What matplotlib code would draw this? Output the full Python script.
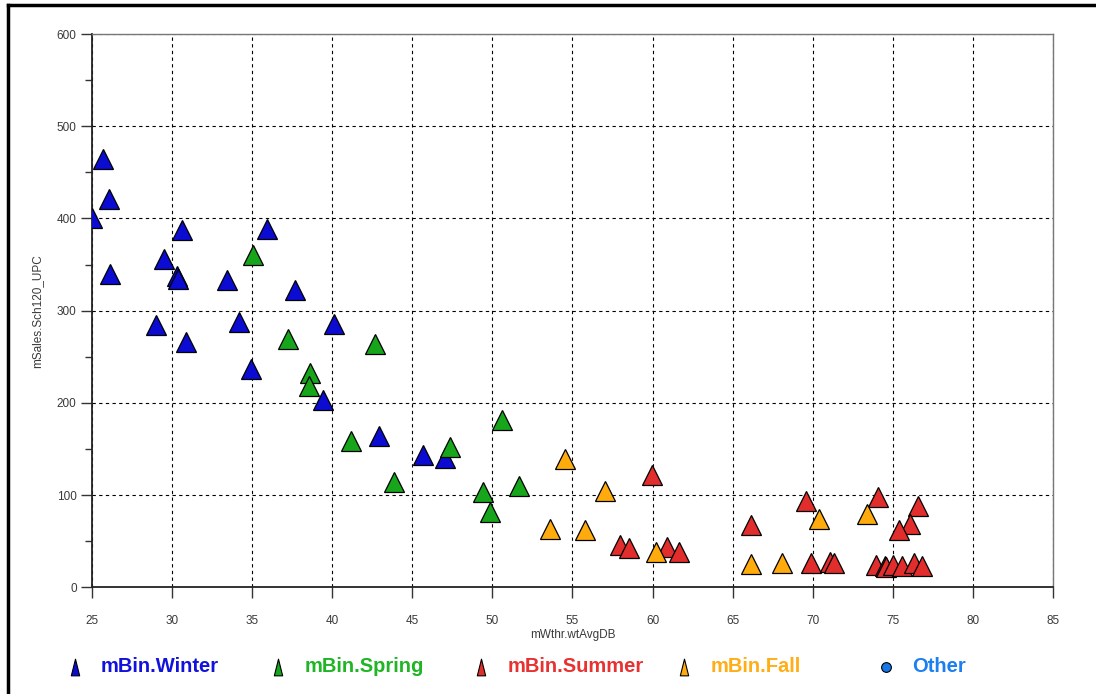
import matplotlib
matplotlib.use("Agg")
import matplotlib.pyplot as plt
from matplotlib.lines import Line2D
from matplotlib.path import Path

plt.rcParams['font.family'] = ['Liberation Sans', 'DejaVu Sans']

# datos
winter_x = [25.0, 25.67, 26.08, 26.13, 29.0, 29.52, 30.6, 30.29, 30.35, 30.86,
            33.4, 34.2, 34.94, 35.92, 37.65, 39.42, 40.08, 42.9, 45.64, 47.06]
winter_y = [401, 465, 421, 340, 285, 356, 387, 338, 334, 266,
            333, 288, 237, 389, 322, 203, 286, 164, 144, 140]

spring_x = [35.08, 37.27, 42.7, 38.6, 38.56, 41.17, 50.58, 47.33, 43.88, 49.44,
            49.82, 51.65]
spring_y = [360, 269, 264, 232, 218, 159, 182, 152, 114, 104, 82, 110]

summer_x = [59.98, 57.96, 58.52, 60.92, 61.65, 66.13, 69.6, 69.9, 71.1, 71.35,
            74.1, 76.54, 76.06, 75.4, 73.94, 74.5, 74.6, 74.98, 75.6, 76.3, 76.8]
summer_y = [122, 46, 43, 44, 38, 68, 94, 27, 28, 26,
            98, 88, 69, 62, 24, 23, 22, 24, 23, 26, 23]

fall_x = [54.52, 57.0, 53.62, 55.79, 60.23, 66.13, 68.1, 70.4, 73.4]
fall_y = [139, 105, 63, 62, 38, 25, 27, 74, 80]

series = [
    ('mBin.Winter', winter_x, winter_y, '#0b0bd2', '#1212dd'),
    ('mBin.Spring', spring_x, spring_y, '#17a51c', '#1fb524'),
    ('mBin.Summer', summer_x, summer_y, '#e22d2d', '#e83232'),
    ('mBin.Fall', fall_x, fall_y, '#ffab0e', '#ffae16'),
]

fig = plt.figure(figsize=(10.96, 6.94), dpi=100)
ax = fig.add_axes([0.0839, 0.1535, 0.8769, 0.7975])

for nombre, xs, ys, color, _ in series:
    ax.plot(xs, ys, linestyle='none', marker='^', markersize=14.5,
            markerfacecolor=color, markeredgecolor='black', markeredgewidth=0.9,
            zorder=3)

ax.set_xlim(25, 85)
ax.set_ylim(0, 600)
ax.set_xticks(range(25, 86, 5))
ax.set_yticks(range(0, 601, 100))
ax.set_yticks(range(50, 600, 100), minor=True)
ax.grid(True, which='major', linestyle=(0, (3, 3)), color='black', linewidth=0.8)
ax.set_axisbelow(True)

ax.tick_params(axis='both', which='major', direction='out', length=8, width=1,
               color='#333333', labelsize=8.5, labelcolor='#3a3a3a')
ax.tick_params(axis='x', pad=12)
ax.tick_params(axis='y', pad=3)
ax.tick_params(axis='y', which='minor', direction='out', length=5, width=1,
               color='#333333')

for lado in ['left', 'bottom']:
    ax.spines[lado].set_color('#222222')
    ax.spines[lado].set_linewidth(1.3)
for lado in ['top', 'right']:
    ax.spines[lado].set_color('#777777')
    ax.spines[lado].set_linewidth(1.0)

ax.set_xlabel('mWthr.wtAvgDB', fontsize=8.5, color='#3a3a3a', labelpad=1)
ax.set_ylabel('mSales.Sch120_UPC', fontsize=8.5, color='#3a3a3a', labelpad=10)

# leyenda manual abajo
tri = Path([(0, 1), (-0.5, -1), (0.5, -1), (0, 1)],
           [Path.MOVETO, Path.LINETO, Path.LINETO, Path.CLOSEPOLY])
leg_x = [0.068, 0.254, 0.439, 0.624, 0.808]
leg_y = 1 - 667 / 694
etiquetas = [s[0] for s in series] + ['Other']
colores = [s[3] for s in series] + ['#1877e6']
colores_txt = [s[4] for s in series] + ['#1b7ff0']
for i, (lx, etiqueta) in enumerate(zip(leg_x, etiquetas)):
    marcador = tri if i < 4 else 'o'
    ms = 12 if i < 4 else 7
    fig.add_artist(Line2D([lx], [leg_y], marker=marcador, markersize=ms,
                          markerfacecolor=colores[i], markeredgecolor='black',
                          markeredgewidth=0.8, linestyle='none',
                          transform=fig.transFigure))
    fig.text(lx + 0.024, leg_y, etiqueta, color=colores_txt[i], fontsize=14.5,
             fontweight='bold', va='center', ha='left')

# borde exterior (arriba e izquierda)
fig.add_artist(Line2D([0.007, 1.0], [1 - 5 / 694, 1 - 5 / 694], color='black',
                      linewidth=2.5, transform=fig.transFigure))
fig.add_artist(Line2D([0.0075, 0.0075], [0.0, 1 - 5 / 694], color='black',
                      linewidth=2.5, transform=fig.transFigure))

fig.savefig('out.png', dpi=100)
plt.close(fig)
